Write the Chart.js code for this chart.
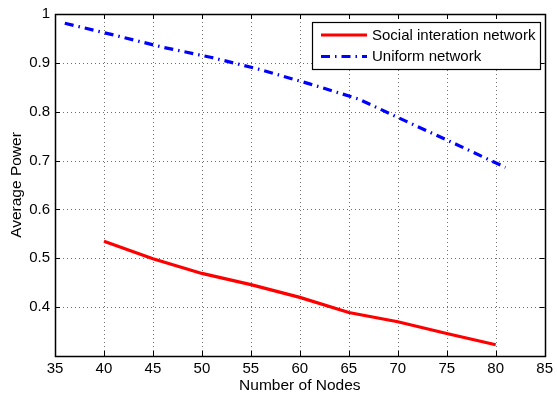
<!DOCTYPE html>
<html>
<head>
<meta charset="utf-8">
<script src="https://cdn.jsdelivr.net/npm/chart.js@4.4.1/dist/chart.umd.min.js"></script>
<style>
  html, body { margin: 0; padding: 0; background: #fff; }
  #wrap { width: 557px; height: 397px; position: relative; }
</style>
</head>
<body>
<div id="wrap"><canvas id="c" width="557" height="397"></canvas></div>
<script>
// Node counts and measured average power for each network type
const socialNodes = [40, 45, 50, 55, 60, 65, 70, 75, 80];
const socialPower = [0.535, 0.499, 0.469, 0.446, 0.420, 0.389, 0.370, 0.346, 0.323];
const uniformNodes = [36, 41, 46, 51, 56, 61, 66, 71, 76, 81];
const uniformPower = [0.981, 0.957, 0.932, 0.911, 0.886, 0.857, 0.826, 0.779, 0.733, 0.686];
const xTicks = [35, 40, 45, 50, 55, 60, 65, 70, 75, 80, 85];
const yTicks = [0.3, 0.4, 0.5, 0.6, 0.7, 0.8, 0.9, 1.0];
const seriesNames = ['Social interation network', 'Uniform network'];

const FONT = '"Liberation Sans", Arial, Helvetica, sans-serif';

const toPoints = (xs, ys) => xs.map((x, i) => ({ x: x, y: ys[i] }));

// Dotted grid behind the lines, box, inner ticks and legend on top
const gridPlugin = {
  id: 'matlabGrid',
  beforeDatasetsDraw(chart) {
    const { ctx, chartArea: a, scales: { x, y } } = chart;
    ctx.save();
    ctx.strokeStyle = '#6f6f6f';
    ctx.lineWidth = 1;
    ctx.setLineDash([1, 3]);
    xTicks.forEach(v => {
      const px = Math.round(x.getPixelForValue(v)) + 0.5;
      if (px <= a.left + 1 || px >= a.right - 1) return;
      ctx.beginPath(); ctx.moveTo(px, a.top); ctx.lineTo(px, a.bottom); ctx.stroke();
    });
    yTicks.forEach(v => {
      const py = Math.round(y.getPixelForValue(v)) + 0.5;
      if (py <= a.top + 1 || py >= a.bottom - 1) return;
      ctx.beginPath(); ctx.moveTo(a.left, py); ctx.lineTo(a.right, py); ctx.stroke();
    });
    ctx.restore();
  },
  afterDatasetsDraw(chart) {
    const { ctx, chartArea: a, scales: { x, y } } = chart;
    ctx.save();
    ctx.setLineDash([]);
    ctx.strokeStyle = '#000';
    ctx.lineWidth = 1;
    // inward tick marks on all four sides
    const tl = 5;
    xTicks.forEach(v => {
      const px = Math.round(x.getPixelForValue(v)) + 0.5;
      ctx.beginPath();
      ctx.moveTo(px, a.bottom); ctx.lineTo(px, a.bottom - tl);
      ctx.moveTo(px, a.top); ctx.lineTo(px, a.top + tl);
      ctx.stroke();
    });
    yTicks.forEach(v => {
      const py = Math.round(y.getPixelForValue(v)) + 0.5;
      ctx.beginPath();
      ctx.moveTo(a.left, py); ctx.lineTo(a.left + tl, py);
      ctx.moveTo(a.right, py); ctx.lineTo(a.right - tl, py);
      ctx.stroke();
    });
    // axes box
    ctx.lineWidth = 1.5;
    ctx.strokeRect(Math.round(a.left) + 0.5, Math.round(a.top) + 0.5,
                   Math.round(a.right - a.left), Math.round(a.bottom - a.top));

    // legend box in the upper right corner
    const bx = 312.5, by = 22.5, bw = 228, bh = 47;
    ctx.fillStyle = '#fff';
    ctx.fillRect(bx, by, bw, bh);
    ctx.lineWidth = 1.2;
    ctx.strokeStyle = '#000';
    ctx.strokeRect(bx, by, bw, bh);
    chart.data.datasets.forEach((ds, i) => {
      const ly = 35 + i * 21.5;
      ctx.save();
      ctx.strokeStyle = ds.borderColor;
      ctx.lineWidth = ds.borderWidth;
      ctx.setLineDash(ds.borderDash || []);
      ctx.beginPath(); ctx.moveTo(321, ly); ctx.lineTo(367, ly); ctx.stroke();
      ctx.restore();
      ctx.fillStyle = '#000';
      ctx.font = '15px ' + FONT;
      ctx.textBaseline = 'middle';
      ctx.textAlign = 'left';
      ctx.fillText(ds.label, 372, ly + 0.5);
    });
    ctx.restore();
  }
};

new Chart(document.getElementById('c'), {
  type: 'line',
  data: {
    datasets: [
      {
        label: seriesNames[0],
        data: toPoints(socialNodes, socialPower),
        borderColor: '#ff0000',
        borderWidth: 3.2,
        pointRadius: 0,
        tension: 0,
        fill: false
      },
      {
        label: seriesNames[1],
        data: toPoints(uniformNodes, uniformPower),
        borderColor: '#0000ff',
        borderWidth: 3.2,
        borderDash: [9, 5, 1.5, 5],
        pointRadius: 0,
        tension: 0,
        fill: false
      }
    ]
  },
  options: {
    responsive: false,
    animation: false,
    devicePixelRatio: 1,
    layout: { padding: { left: 0, right: 9, top: 11, bottom: 0 } },
    plugins: { legend: { display: false }, tooltip: { enabled: false } },
    scales: {
      x: {
        type: 'linear',
        min: 35, max: 85,
        afterBuildTicks: s => { s.ticks = xTicks.map(v => ({ value: v })); },
        afterFit: s => { s.height = 41; },
        grid: { display: false, drawTicks: false, tickLength: 0 },
        border: { display: false },
        ticks: {
          color: '#000',
          font: { family: FONT, size: 15 },
          padding: 4,
          maxRotation: 0,
          callback: v => String(v)
        },
        title: {
          display: true,
          text: 'Number of Nodes',
          color: '#000',
          font: { family: FONT, size: 15.5 },
          padding: { top: 0, bottom: 2 }
        }
      },
      y: {
        type: 'linear',
        min: 0.3, max: 1.0,
        afterBuildTicks: s => { s.ticks = yTicks.map(v => ({ value: v })); },
        afterFit: s => { s.width = 55; },
        grid: { display: false, drawTicks: false, tickLength: 0 },
        border: { display: false },
        ticks: {
          color: '#000',
          font: { family: FONT, size: 15 },
          padding: 5,
          callback: v => {
            if (Math.abs(v - 0.3) < 1e-6) return '';
            if (Math.abs(v - 1) < 1e-6) return '1';
            return v.toFixed(1);
          }
        },
        title: {
          display: true,
          text: 'Average Power',
          color: '#000',
          font: { family: FONT, size: 15.5 },
          padding: { top: 7, bottom: 0 }
        }
      }
    }
  },
  plugins: [gridPlugin]
});
</script>
</body>
</html>
